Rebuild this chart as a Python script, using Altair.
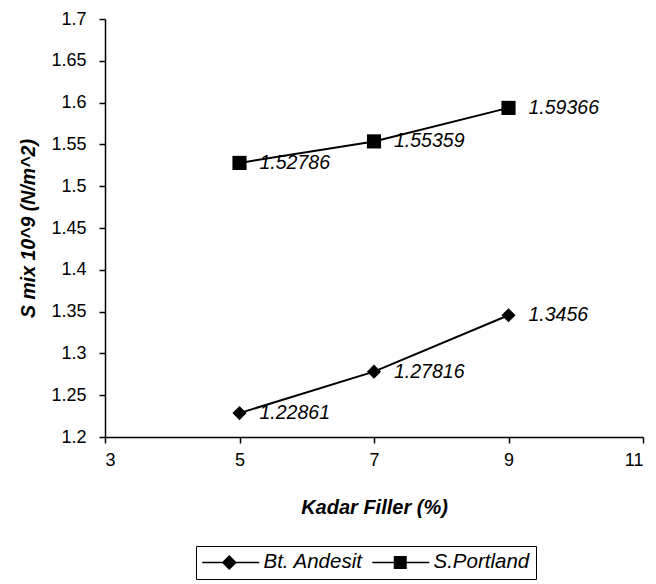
import altair as alt
import pandas as pd

# ---- data ----
kadar = [5, 7, 9]
andesit = [1.22861, 1.27816, 1.3456]
portland = [1.52786, 1.55359, 1.59366]
andesit_labels = ["1.22861", "1.27816", "1.3456"]
portland_labels = ["1.52786", "1.55359", "1.59366"]
series = ["Bt. Andesit", "S.Portland"]
x_ticks = [3, 5, 7, 9, 11]
y_ticks = [1.2, 1.25, 1.3, 1.35, 1.4, 1.45, 1.5, 1.55, 1.6, 1.65, 1.7]

rows = []
for k, v, l in zip(kadar, andesit, andesit_labels):
    rows.append({"kadar": k, "smix": v, "label": l, "series": series[0]})
for k, v, l in zip(kadar, portland, portland_labels):
    rows.append({"kadar": k, "smix": v, "label": l, "series": series[1]})
df = pd.DataFrame(rows)

FONT = "Liberation Sans"
W, H = 538, 418

x = alt.X(
    "kadar:Q",
    scale=alt.Scale(domain=[3, 11], nice=False, zero=False),
    axis=alt.Axis(
        values=x_ticks, title="Kadar Filler (%)", grid=False,
        labelFontSize=18, labelPadding=8,
        titleFontSize=20, titleFontWeight="bold", titleFontStyle="italic",
        titleX=W / 2, titleY=70, titleBaseline="middle", titleAlign="center",
    ),
)
y = alt.Y(
    "smix:Q",
    scale=alt.Scale(domain=[1.2, 1.7], nice=False, zero=False),
    axis=alt.Axis(
        values=y_ticks, format=".2~f", title="S mix 10^9 (N/m^2)", grid=False,
        labelFontSize=18, labelPadding=13,
        titleFontSize=19.5, titleFontWeight="bold", titleFontStyle="italic",
        titleX=-77, titleY=H / 2, titleAngle=-90, titleBaseline="middle", titleAlign="center",
    ),
)

line = alt.Chart(df).mark_line(color="black", strokeWidth=2).encode(
    x=x, y=y, detail="series:N"
)

points = alt.Chart(df).mark_point(filled=True, color="black", opacity=1, size=200).encode(
    x=x, y=y,
    shape=alt.Shape("series:N", scale=alt.Scale(domain=series, range=["diamond", "square"]), legend=None),
)

# legend glyphs: a thin filled bar (the line) with the marker on it
path_d = "M-1,-0.075L4.7,-0.075L4.7,0.075L-1,0.075Z M1.7,-0.75L2.45,0L1.7,0.75L0.95,0Z"
path_s = "M-1,-0.075L4.7,-0.075L4.7,0.075L-1,0.075Z M1.15,-0.65L2.45,-0.65L2.45,0.65L1.15,0.65Z"

legend_layer = alt.Chart(df).mark_point(
    filled=True, color="black", opacity=0
).encode(
    x=x, y=y,
    shape=alt.Shape(
        "series:N",
        scale=alt.Scale(domain=series, range=[path_d, path_s]),
        legend=alt.Legend(
            title=None, orient="none", legendX=91, legendY=527, direction="horizontal",
            strokeColor="black", padding=6, symbolSize=400,
            symbolFillColor="black", symbolStrokeWidth=0,
            symbolOpacity=1, labelFont=FONT, labelFontSize=20.5, labelFontStyle="italic",
            labelColor="black", labelOffset=41, columnPadding=9,
        ),
    ),
)

labels = alt.Chart(df).mark_text(
    align="left", baseline="middle", dx=20, font=FONT, fontSize=19.5,
    fontStyle="italic", color="black",
).encode(x=x, y=y, text="label:N")

chart = (
    alt.layer(line, points, legend_layer, labels)
    .resolve_scale(shape="independent")
    .properties(
        width=W, height=H,
        padding={"left": 97, "top": 11, "right": 5, "bottom": 147},
        autosize=alt.AutoSizeParams(type="none"),
        background="white",
    )
    .configure_view(stroke=None)
    .configure_axis(
        domainColor="black", domainWidth=1.5, tickColor="black", tickWidth=1.5,
        tickSize=6, labelColor="black", titleColor="black",
        labelFont=FONT, titleFont=FONT,
    )
)

chart.save("out.html", embed_options={"renderer": "svg", "actions": False})
